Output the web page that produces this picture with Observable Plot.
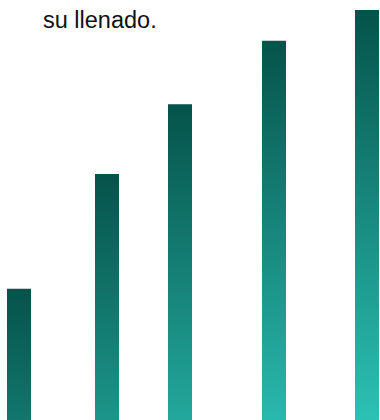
<!DOCTYPE html>
<html><head><meta charset="utf-8">
<script src="https://cdn.jsdelivr.net/npm/d3@7"></script>
<script src="https://cdn.jsdelivr.net/npm/@observablehq/plot@0.6"></script>
<style>
html,body{margin:0;padding:0;background:#fff;}
#wrap{position:relative;width:380px;height:420px;overflow:hidden;}
#title{position:absolute;left:43px;top:8.8px;font-family:"Liberation Sans",Arial,sans-serif;font-size:23.5px;line-height:1;color:#111;white-space:nowrap;}
#chart svg{display:block;}
</style></head><body>
<div id="wrap"><div id="chart"></div><div id="title"></div></div>
<script>
const titleText = "su llenado.";
const dates = ["2022-01-10","2022-04-08","2022-06-20","2022-09-22","2022-12-24"];
const values = [32, 60, 77, 92.5, 100];

const data = dates.map((d, i) => ({date: new Date(d), value: values[i]}));
const dark = "#05534a", light = "#2ec6ba";

const plot = Plot.plot({
  width: 380, height: 420,
  marginTop: 10, marginBottom: 0, marginLeft: 18.5, marginRight: 13.5,
  x: {type: "utc", domain: d3.extent(data, d => d.date), axis: null},
  y: {domain: [0, 100], axis: null},
  marks: [
    Plot.ruleX(data, {x: "date", y1: 0, y2: "value", stroke: dark, strokeWidth: 24})
  ]
});

// per-bar vertical gradients, anchored at each bar's top
const ns = "http://www.w3.org/2000/svg";
const defs = document.createElementNS(ns, "defs");
plot.insertBefore(defs, plot.firstChild);
plot.querySelectorAll("g[aria-label='rule'] line").forEach((ln, i) => {
  const top = Math.min(+ln.getAttribute("y1"), +ln.getAttribute("y2"));
  const g = document.createElementNS(ns, "linearGradient");
  g.setAttribute("id", "barGrad" + i);
  g.setAttribute("gradientUnits", "userSpaceOnUse");
  g.setAttribute("x1", 0); g.setAttribute("x2", 0);
  g.setAttribute("y1", top); g.setAttribute("y2", top + 430);
  [[0, dark], [1, light]].forEach(([o, c]) => {
    const s = document.createElementNS(ns, "stop");
    s.setAttribute("offset", o); s.setAttribute("stop-color", c);
    g.appendChild(s);
  });
  defs.appendChild(g);
  ln.setAttribute("stroke", `url(#barGrad${i})`);
});

document.getElementById("chart").appendChild(plot);
document.getElementById("title").textContent = titleText;
</script>
</body></html>
